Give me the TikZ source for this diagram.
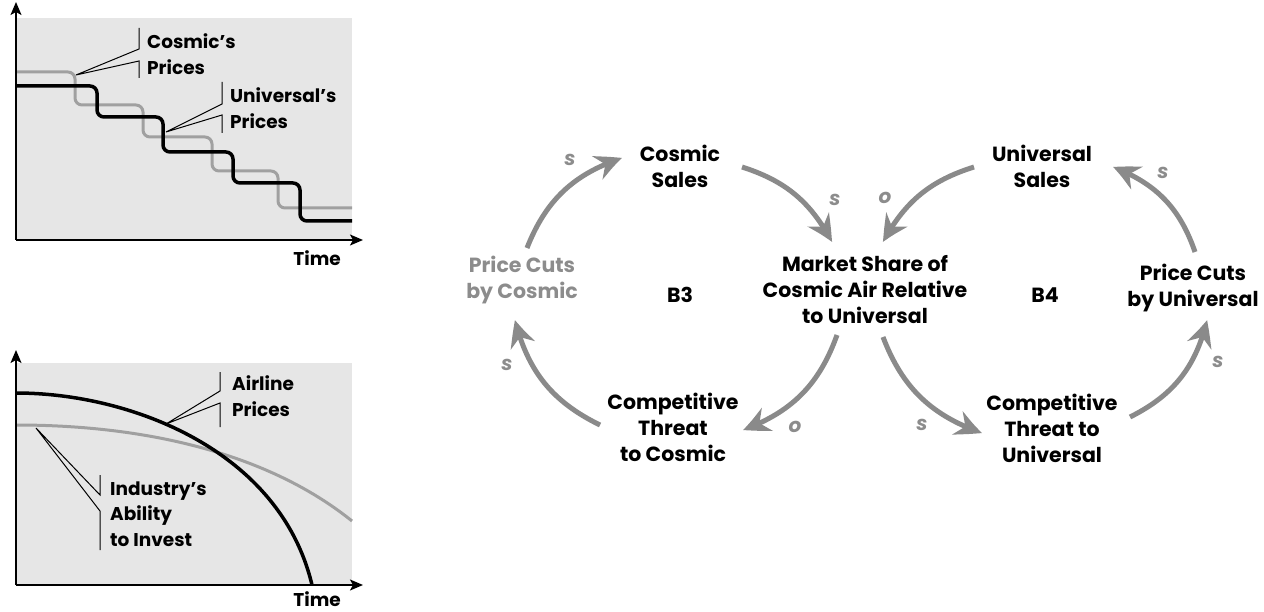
\documentclass[tikz,border=0pt]{standalone}
\usepackage{fontspec}
\setmainfont{Poppins}
\usetikzlibrary{arrows.meta,calc,bending}
\definecolor{boxgray}{HTML}{E6E6E6}
\definecolor{curvegray}{HTML}{A0A0A0}
\definecolor{arrowgray}{HTML}{8A8A8A}
\definecolor{textgray}{HTML}{8C8C8C}
\begin{document}
\begin{tikzpicture}[x=1pt,y=1pt,
  lbl/.style={font=\fontsize{20.5}{26}\selectfont\bfseries, align=center, inner sep=0pt},
  glbl/.style={font=\fontsize{18.5}{25.5}\selectfont\bfseries, align=left, anchor=west, inner sep=0pt},
  pol/.style={font=\fontsize{20}{22}\selectfont\bfseries\itshape, text=textgray, inner sep=0pt},
  conn/.style={draw=arrowgray, line width=5pt, -{Stealth[length=27pt,width=25pt,inset=9pt,bend]}},
  axis/.style={line width=1.6pt, -{Stealth[length=13pt,width=11pt,inset=3pt]}},
  lead/.style={line width=1pt},
  grayc/.style={draw=curvegray, line width=3pt},
  blackc/.style={draw=black, line width=3.5pt},
]
\useasboundingbox (0,0) rectangle (1264,-612);

% ---------- top graph ----------
\fill[boxgray] (16,-18) rectangle (352,-240);
\coordinate (o1) at (16,-240);
\coordinate (ya1) at (16,-2);
\coordinate (xa1) at (363,-240);
\draw[grayc, rounded corners=7pt] (16,-72) -- (75,-72) -- (75,-105) -- (143,-105) -- (143,-137) -- (212,-137) -- (212,-171) -- (278,-171) -- (278,-208) -- (352,-208);
\draw[blackc, rounded corners=7pt] (16,-86) -- (97,-86) -- (97,-117) -- (163,-117) -- (163,-152) -- (233,-152) -- (233,-183) -- (300,-183) -- (300,-221) -- (352,-221);
\draw[axis] (o1) -- (ya1);
\draw[axis] (o1) -- (xa1);
\node[glbl, anchor=east] (t1) at (341,-258) {Time};

\node[glbl] (lcp) at (147,-54) {Cosmic’s\\Prices};
\coordinate (cpA) at (139,-28);
\coordinate (cpB) at (139,-49);
\coordinate (cpP) at (76,-75);
\coordinate (cpC) at (139,-61);
\coordinate (cpD) at (139,-78);
\draw[lead] (cpA) -- (cpB) -- (cpP) -- (cpC) -- (cpD);

\node[glbl] (lup) at (230,-108) {Universal’s\\Prices};
\coordinate (upA) at (222,-82);
\coordinate (upB) at (222,-104);
\coordinate (upP) at (166,-132);
\coordinate (upC) at (222,-115);
\coordinate (upD) at (222,-133);
\draw[lead] (upA) -- (upB) -- (upP) -- (upC) -- (upD);

% ---------- bottom graph ----------
\fill[boxgray] (16,-363) rectangle (352,-585);
\coordinate (o2) at (16,-585);
\coordinate (ya2) at (16,-350);
\coordinate (xa2) at (363,-585);
\draw[grayc] (16,-425) .. controls (150,-425) and (270,-455) .. (352,-521);
\draw[blackc] (16,-393) .. controls (130,-393) and (280,-450) .. (312,-585);
\draw[axis] (o2) -- (ya2);
\draw[axis] (o2) -- (xa2);
\node[glbl, anchor=east] (t2) at (341,-599) {Time};

\node[glbl] (lap) at (232,-396) {Airline\\Prices};
\coordinate (apA) at (220,-372);
\coordinate (apB) at (220,-391);
\coordinate (apP) at (166,-424);
\coordinate (apC) at (220,-403);
\coordinate (apD) at (220,-427);
\draw[lead] (apA) -- (apB) -- (apP) -- (apC) -- (apD);

\node[glbl] (lia) at (110,-514) {Industry’s\\Ability\\to Invest};
\coordinate (iaA) at (100,-475);
\coordinate (iaB) at (100,-495);
\coordinate (iaP) at (36,-428);
\coordinate (iaC) at (100,-511);
\coordinate (iaD) at (100,-550);
\draw[lead] (iaA) -- (iaB) -- (iaP) -- (iaC) -- (iaD);

% ---------- causal loops ----------
\node[lbl] (cs) at (680,-166) {Cosmic\\Sales};
\node[lbl] (ms) at (865,-290) {Market Share of\\Cosmic Air Relative\\to Universal};
\node[lbl, text=textgray] (pcc) at (522,-280) {Price Cuts\\by Cosmic};
\node[lbl] (b3) at (680,-295) {B3};
\node[lbl] (ctc) at (673,-427) {Competitive\\Threat\\to Cosmic};
\node[lbl] (us) at (1042,-166) {Universal\\Sales};
\node[lbl] (b4) at (1045,-295) {B4};
\node[lbl] (pcu) at (1193,-288) {Price Cuts\\by Universal};
\node[lbl] (ctu) at (1052,-428) {Competitive\\Threat to\\Universal};

\draw[conn] ($(pcc)+(5,32)$) to[bend left=25] ($(cs)+(-58,8)$);
\draw[conn] ($(cs)+(62,-1)$) to[bend left=22] ($(ms)+(-33,48)$);
\draw[conn] ($(ms)+(-28,-45)$) to[bend left=25] ($(ctc)+(70,-3)$);
\draw[conn] ($(ctc)+(-73,2)$) to[bend left=25] ($(pcc)+(-7,-40)$);

\draw[conn] ($(us)+(-68,-1)$) to[bend right=22] ($(ms)+(18,48)$);
\draw[conn] ($(ms)+(18,-47)$) to[bend right=25] ($(ctu)+(-70,-5)$);
\draw[conn] ($(ctu)+(78,11)$) to[bend right=25] ($(pcu)+(14,-32)$);
\draw[conn] ($(pcu)+(2,36)$) to[bend right=25] ($(us)+(71,-1)$);

\node[pol] (p1) at (570,-160) {s};
\node[pol] (p2) at (835,-200) {s};
\node[pol] (p3) at (795,-427) {o};
\node[pol] (p4) at (507,-365) {s};
\node[pol] (p5) at (885,-198) {o};
\node[pol] (p6) at (922,-425) {s};
\node[pol] (p7) at (1218,-362) {s};
\node[pol] (p8) at (1163,-173) {s};
\end{tikzpicture}
\end{document}
